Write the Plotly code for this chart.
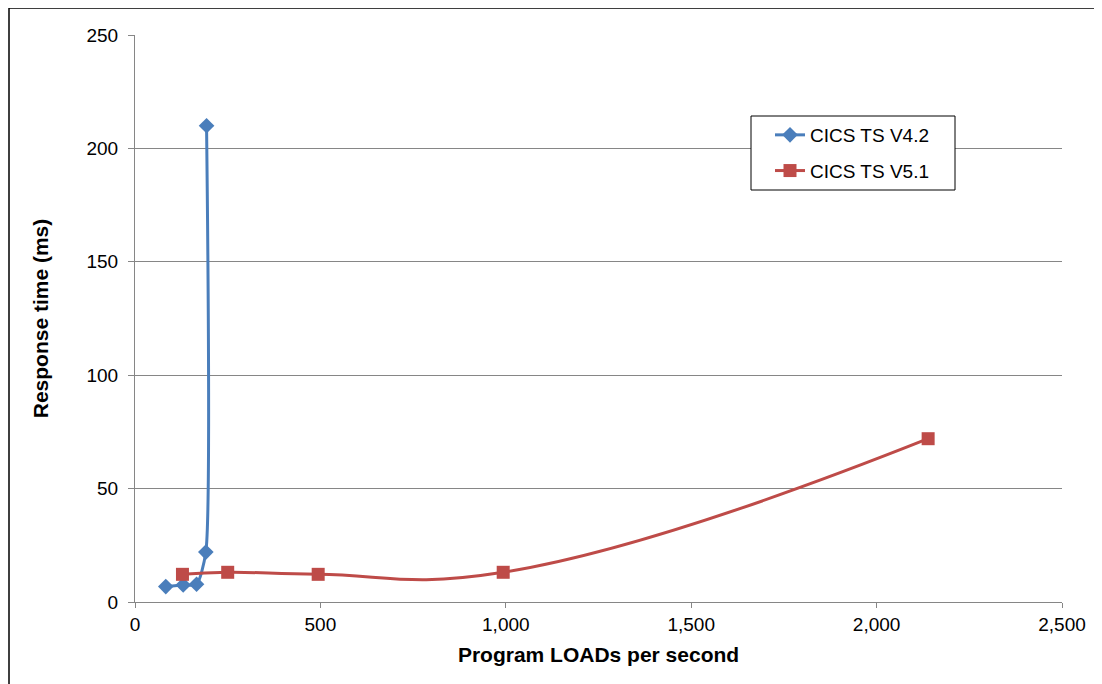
import plotly.graph_objects as go

v42_x = [83, 130, 166, 191, 193]
v42_y = [6.8, 7.5, 7.8, 22, 210]
v51_x = [128, 250, 494, 993, 2139]
v51_y = [12.2, 13.1, 12.2, 13.1, 72]
series_names = ["CICS TS V4.2", "CICS TS V5.1"]

fig = go.Figure()
fig.add_trace(go.Scatter(
    x=v42_x, y=v42_y, name=series_names[0], mode="lines+markers", legendgroup="g1",
    line=dict(color="#4A7EBB", width=3, shape="spline", smoothing=0.6),
    marker=dict(symbol="diamond", size=12, color="#4A7EBB"),
))
fig.add_trace(go.Scatter(
    x=v51_x, y=v51_y, name=series_names[1], mode="lines+markers", legendgroup="g2",
    line=dict(color="#BE4B48", width=3, shape="spline", smoothing=1.3),
    marker=dict(symbol="square", size=13, color="#BE4B48"),
))

FONT = "Liberation Sans, Arial, sans-serif"
axis_font = dict(family=FONT, size=19, color="#000000")
PL, PT, PW, PH = 135, 35, 927, 567  # plot area in window pixels (for placing paper-anchored items)
fig.update_layout(
    width=1102, height=684,
    margin=dict(l=127, r=48, t=27, b=90, autoexpand=False),
    paper_bgcolor="white", plot_bgcolor="white",
    font=axis_font,
    showlegend=True,
    legend=dict(
        x=(770 - PL) / PW, y=(PT + PH - 116) / PH, xanchor="left", yanchor="top",
        borderwidth=0, bgcolor="rgba(0,0,0,0)",
        font=dict(family=FONT, size=19, color="#000000"),
        itemwidth=30, tracegroupgap=8, traceorder="grouped",
    ),
    xaxis=dict(
        range=[0, 2500], dtick=500, tick0=0, tickformat=",",
        showgrid=False, zeroline=False,
        showline=True, linecolor="#868686", linewidth=1,
        ticks="outside", ticklen=5, tickcolor="#868686",
        title=dict(text="<b>Program LOADs per second</b>", font=dict(family=FONT, size=21), standoff=13),
        tickfont=axis_font, automargin=False,
    ),
    yaxis=dict(
        range=[0, 250], dtick=50, tick0=0,
        showgrid=True, gridcolor="#868686", gridwidth=1, zeroline=False,
        showline=True, linecolor="#868686", linewidth=1,
        ticks="outside", ticklen=6, tickcolor="#868686", ticklabelstandoff=6,
        title=dict(text="<b>Response time (ms)</b>", font=dict(family=FONT, size=21), standoff=32),
        tickfont=axis_font, automargin=False,
    ),
    shapes=[
        dict(type="rect", xref="paper", yref="paper",
             x0=(9 - PL) / PW, y0=-0.3, x1=1.2, y1=(PT + PH - 8) / PH,
             line=dict(color="#000000", width=1.5), fillcolor="rgba(0,0,0,0)", layer="below"),
        dict(type="rect", xref="paper", yref="paper",
             x0=(751 - PL) / PW, x1=(955 - PL) / PW,
             y0=(PT + PH - 190) / PH, y1=(PT + PH - 116) / PH,
             line=dict(color="#000000", width=1), fillcolor="white", layer="above"),
    ],
)
fig.write_html("out.html")
